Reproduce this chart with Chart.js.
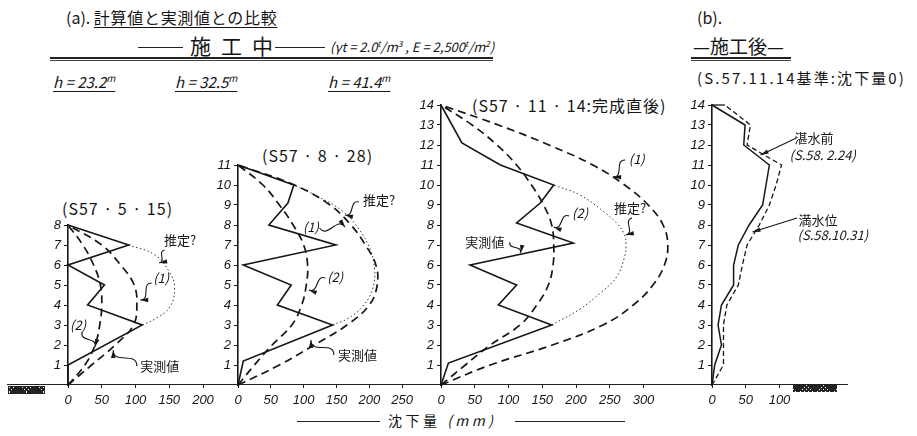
<!DOCTYPE html>
<html>
<head>
<meta charset="utf-8">
<script src="https://cdn.jsdelivr.net/npm/chart.js@4.4.1/dist/chart.umd.min.js"></script>
<style>
  body { margin: 0; background: #fff; }
  #wrap { position: relative; width: 917px; height: 436px; overflow: hidden; font-family: "Noto Sans CJK JP", sans-serif; color: #151515; }
  .t { position: absolute; white-space: nowrap; line-height: 1; }
  .u { text-decoration: underline; text-underline-offset: 3px; }
  .hl { position: absolute; border-top: 1.5px solid #222; }
  .hatch { position: absolute; background:
      repeating-linear-gradient(45deg, #222 0 2px, transparent 2px 3px),
      repeating-linear-gradient(-45deg, #222 0 2px, transparent 2px 3px); }
  canvas { position: absolute; }
  sup { font-size: 0.65em; }
</style>
</head>
<body>
<div id="wrap">
  <div class="t" style="left:66px;top:9px;font-size:16px;">(a). <span class="u" style="letter-spacing:0.7px;">計算値と実測値との比較</span></div>
  <div class="hl" style="left:138px;top:47px;width:45px;"></div>
  <div class="t" style="left:190px;top:35px;font-size:21px;letter-spacing:10px;">施工中</div>
  <div class="hl" style="left:275px;top:47px;width:50px;"></div>
  <div class="t" style="left:330px;top:39px;font-size:13px;font-style:italic;">(γt = 2.0<sup>t</sup>/m<sup>3</sup> , E = 2,500<sup>t</sup>/m<sup>2</sup>)</div>
  <div style="position:absolute;left:50px;top:57px;width:443px;height:1px;border-top:2.5px solid #222;border-bottom:1px solid #444;"></div>

  <div class="t u" style="left:53px;top:74px;font-size:15px;font-style:italic;">h = 23.2<sup>m</sup></div>
  <div class="t u" style="left:175px;top:74px;font-size:15px;font-style:italic;">h = 32.5<sup>m</sup></div>
  <div class="t u" style="left:328px;top:74px;font-size:15px;font-style:italic;">h = 41.4<sup>m</sup></div>

  <div class="t" style="left:62px;top:200px;font-size:16px;letter-spacing:1px;">(S57 · 5 · 15)</div>
  <div class="t" style="left:262px;top:147px;font-size:16px;letter-spacing:1px;">(S57 · 8 · 28)</div>
  <div class="t" style="left:472px;top:97px;font-size:16px;letter-spacing:1px;">(S57 · 11 · 14:完成直後)</div>

  <div class="t" style="left:697px;top:9px;font-size:16px;">(b).</div>
  <div class="t" style="left:693px;top:36px;font-size:19px;">—施工後—</div>
  <div style="position:absolute;left:691px;top:57px;width:100px;height:1px;border-top:2px solid #222;border-bottom:1px solid #444;"></div>
  <div class="t" style="left:697px;top:70px;font-size:15px;letter-spacing:2.1px;">(S.57.11.14基準:沈下量0)</div>

  <div class="hl" style="left:7px;top:384px;width:841px;"></div>
  <div class="hatch" style="left:8px;top:386px;width:37px;height:8px;"></div>
  <div class="hatch" style="left:793px;top:385px;width:44px;height:7px;"></div>

  <div class="hl" style="left:297px;top:421px;width:83px;border-top-width:1px;"></div>
  <div class="t" style="left:388px;top:413px;font-size:14px;letter-spacing:3.5px;">沈下量 <i>(mm)</i></div>
  <div class="hl" style="left:515px;top:421px;width:110px;border-top-width:1px;"></div>

  <canvas id="c1"></canvas>
  <canvas id="c2"></canvas>
  <canvas id="c3"></canvas>
  <canvas id="c4"></canvas>
</div>

<script>
// (a) h=23.2m  S57.5.15   depth in units of the axis, settlement in mm
const depth1 = [0, 1, 2, 3, 4, 5, 6, 7, 8];
const calc1A = [0, 35, 70, 97, 102, 98, 78, 50, 0];
const calc1B = [0, 25, 40, 47, 50, 48, 38, 22, 0];
const meas1Y = [0, 1, 3, 4, 5, 6, 7, 8];
const meas1X = [0, 0, 110, 29, 54, 0, 90, 0];
const est1Y = [3, 3.3, 3.9, 4.9, 5.6, 6.5, 7];
const est1X = [110, 129, 151, 158, 151, 129, 90];
const xTicks1 = [0, 50, 100, 150, 200];
const yTicks1 = [1, 2, 3, 4, 5, 6, 7, 8];

// (a) h=32.5m  S57.8.28
const depth2 = [0, 1, 2, 3, 4, 5, 6, 7, 8, 9, 10, 11];
const calc2A = [0, 63, 116, 166, 200, 212, 210, 194, 172, 140, 86, 0];
const calc2B = [0, 25, 52, 82, 97, 104, 106, 100, 84, 63, 38, 0];
const meas2Y = [0, 1.2, 3, 4, 5, 6, 7, 8, 9.1, 10, 11];
const meas2X = [0, 8, 144, 60, 81, 8, 149, 47, 76, 85, 0];
const est2Y = [3, 3.3, 3.9, 4.8, 5.8, 6.8, 7.8, 8.7, 9.4, 10];
const est2X = [144, 166, 189, 205, 208, 201, 184, 159, 123, 85];
const xTicks2 = [0, 50, 100, 150, 200, 250];
const yTicks2 = [1, 2, 3, 4, 5, 6, 7, 8, 9, 10, 11];

// (a) h=41.4m  S57.11.14 完成直後
const depth3 = [0, 1, 2, 3, 4, 5, 6, 7, 8, 9, 10, 11, 12, 13, 14];
const calc3A = [0, 73, 165, 240, 285, 314, 331, 336, 329, 307, 272, 225, 160, 85, 0];
const calc3B = [0, 36, 73, 117, 142, 159, 166, 167, 164, 152, 134, 112, 83, 46, 0];
const meas3Y = [0, 1.1, 3, 4, 5, 6, 7.1, 8.1, 9.1, 10, 11, 12.1, 14];
const meas3X = [0, 11, 164, 85, 112, 43, 196, 112, 147, 167, 88, 31, 0];
const est3Y = [3, 3.8, 4.6, 5.4, 6.4, 7, 7.5, 8.1, 8.8, 9.5, 10];
const est3X = [164, 206, 236, 260, 272, 274, 272, 260, 236, 206, 167];
const xTicks3 = [0, 50, 100, 150, 200, 250, 300];
const yTicks3 = [1, 2, 3, 4, 5, 6, 7, 8, 9, 10, 11, 12, 13, 14];

// (b) 施工後  S.57.11.14 基準
const before4Y = [0, 1, 2, 3, 4, 5, 6, 7, 8, 9, 11, 12, 13, 14];
const before4X = [0, 4, 14, 9, 14, 32, 32, 39, 55, 75, 85, 47, 49, 0];
const full4Y = [0, 1, 2, 3, 4, 5, 6, 7, 8, 9, 10, 11, 12, 13, 14, 14];
const full4X = [0, 17, 17, 17, 22, 39, 45, 52, 70, 85, 95, 103, 52, 57, 19, 0];
const xTicks4 = [0, 50, 100];
const yTicks4 = [1, 2, 3, 4, 5, 6, 7, 8, 9, 10, 11, 12, 13, 14];

// labels with leader lines, in data units
const notes1 = [
  { text: '推定?', x: 166, y: 7.25, from: [143, 6.75], to: [135, 6.1], wave: true },
  { text: '(1)', x: 138, y: 5.35, italic: true, from: [124, 5.1], to: [107, 4.25], wave: true },
  { text: '(2)', x: 15, y: 3.0, italic: true, from: [21, 2.65], to: [40, 1.9], wave: true },
  { text: '実測値', x: 136, y: 0.95, from: [102, 0.95], to: [67, 1.75], wave: true }
];
const notes2 = [
  { text: '推定?', x: 215, y: 9.25, from: [184, 9.15], to: [163, 8.5], wave: true },
  { text: '(1)', x: 111, y: 7.9, italic: true, from: [124, 7.85], to: [163, 7.9], wave: true },
  { text: '(2)', x: 148, y: 5.4, italic: true, from: [133, 5.35], to: [108, 4.75], wave: true },
  { text: '実測値', x: 182, y: 1.5, from: [146, 1.5], to: [111, 2.25], wave: true }
];
const notes3 = [
  { text: '(1)', x: 290, y: 11.3, italic: true, from: [273, 11.25], to: [255, 10.4], wave: true },
  { text: '推定?', x: 280, y: 8.85, from: [283, 8.35], to: [274, 7.5], wave: true },
  { text: '(2)', x: 206, y: 8.6, italic: true, from: [190, 8.45], to: [167, 7.9], wave: true },
  { text: '実測値', x: 65, y: 7.15, from: [102, 7.15], to: [118, 6.6], wave: true }
];
const notes4 = [
  { text: '湛水前', x: 151, y: 12.35 },
  { text: '(S.58. 2.24)', x: 164, y: 11.5, italic: true, from: [125, 12.35], to: [72, 11.5] },
  { text: '満水位', x: 157, y: 8.25 },
  { text: '(S.58.10.31)', x: 179, y: 7.5, italic: true, from: [126, 8.35], to: [60, 7.65] }
];

const PX_MM = 0.675;      // px per mm on every panel
const PX_UNIT = 20;       // px per depth unit
const BASE_Y = 385;       // page y of the ground line
const CANVAS_TOP = 90;
const CANVAS_H = 346;
const Y_AXIS_W = 30;
const INK = '#161616';
const tickFont = { family: "'Liberation Sans', sans-serif", size: 13, style: 'italic' };

const pts = (xs, ys) => xs.map((x, i) => ({ x: x, y: ys[i] }));

function solid(data) {
  return { data, showLine: true, borderColor: INK, borderWidth: 1.6, pointRadius: 0, tension: 0, clip: false };
}
function dashed(data) {
  return { data, showLine: true, borderColor: INK, borderWidth: 1.7, borderDash: [8, 5], pointRadius: 0, tension: 0.4, clip: false };
}
function dotted(data) {
  return { data, showLine: true, borderColor: '#333', borderWidth: 1, borderDash: [1.5, 2.5], pointRadius: 0, tension: 0.4, clip: false };
}

function notesPlugin(items) {
  return {
    id: 'notes',
    afterDatasetsDraw(chart) {
      const { ctx, scales: { x, y } } = chart;
      ctx.save();
      ctx.strokeStyle = INK;
      ctx.fillStyle = INK;
      ctx.lineWidth = 1.1;
      items.forEach(n => {
        ctx.font = (n.italic ? 'italic ' : '') + '13px "Noto Sans CJK JP", sans-serif';
        ctx.textAlign = 'center';
        ctx.textBaseline = 'middle';
        ctx.fillText(n.text, x.getPixelForValue(n.x), y.getPixelForValue(n.y));
        if (!n.from) return;
        const x0 = x.getPixelForValue(n.from[0]), y0 = y.getPixelForValue(n.from[1]);
        const x1 = x.getPixelForValue(n.to[0]), y1 = y.getPixelForValue(n.to[1]);
        const dx = x1 - x0, dy = y1 - y0;
        let cx = x0, cy = y0;
        ctx.beginPath();
        ctx.moveTo(x0, y0);
        if (n.wave) {
          const nx = -dy * 0.45, ny = dx * 0.45;
          cx = x0 + dx * 0.7 - nx; cy = y0 + dy * 0.7 - ny;
          ctx.bezierCurveTo(x0 + dx * 0.3 + nx, y0 + dy * 0.3 + ny, cx, cy, x1, y1);
        } else {
          ctx.lineTo(x1, y1);
        }
        ctx.stroke();
        // arrow head
        const a = Math.atan2(y1 - cy, x1 - cx);
        ctx.beginPath();
        ctx.moveTo(x1, y1);
        ctx.lineTo(x1 - 8 * Math.cos(a) + 2.2 * Math.sin(a), y1 - 8 * Math.sin(a) - 2.2 * Math.cos(a));
        ctx.lineTo(x1 - 8 * Math.cos(a) - 2.2 * Math.sin(a), y1 - 8 * Math.sin(a) + 2.2 * Math.cos(a));
        ctx.closePath();
        ctx.fill();
      });
      ctx.restore();
    }
  };
}

function panel(id, originX, width, n, xTicks, yTicks, datasets, notes) {
  const cv = document.getElementById(id);
  const plotBottom = BASE_Y - CANVAS_TOP;
  cv.width = width;
  cv.height = CANVAS_H;
  cv.style.left = (originX - Y_AXIS_W) + 'px';
  cv.style.top = CANVAS_TOP + 'px';
  new Chart(cv, {
    type: 'scatter',
    data: { datasets },
    options: {
      responsive: false,
      animation: false,
      events: [],
      layout: { padding: { top: plotBottom - PX_UNIT * n, left: 0, right: 0, bottom: 0 } },
      plugins: { legend: { display: false }, tooltip: { enabled: false } },
      scales: {
        x: {
          type: 'linear',
          min: 0,
          max: (width - Y_AXIS_W) / PX_MM,
          afterBuildTicks: s => { s.ticks = xTicks.map(v => ({ value: v })); },
          afterFit: s => { s.height = CANVAS_H - plotBottom; },
          border: { display: false },
          grid: { drawOnChartArea: false, drawTicks: true, tickLength: 3, color: INK },
          ticks: { color: INK, font: tickFont, padding: 5, maxRotation: 0 }
        },
        y: {
          type: 'linear',
          min: 0,
          max: n,
          afterBuildTicks: s => { s.ticks = yTicks.map(v => ({ value: v })); },
          afterFit: s => { s.width = Y_AXIS_W; },
          border: { display: true, color: INK, width: 1.6 },
          grid: { drawOnChartArea: false, drawTicks: true, tickLength: 4, color: INK },
          ticks: { color: INK, font: tickFont, padding: 3 }
        }
      }
    },
    plugins: [notesPlugin(notes)]
  });
}

panel('c1', 68, 200, 8, xTicks1, yTicks1, [
  solid(pts(meas1X, meas1Y)),
  dashed(pts(calc1A, depth1)),
  dashed(pts(calc1B, depth1)),
  dotted(pts(est1X, est1Y))
], notes1);

panel('c2', 238, 210, 11, xTicks2, yTicks2, [
  solid(pts(meas2X, meas2Y)),
  dashed(pts(calc2A, depth2)),
  dashed(pts(calc2B, depth2)),
  dotted(pts(est2X, est2Y))
], notes2);

panel('c3', 441, 280, 14, xTicks3, yTicks3, [
  solid(pts(meas3X, meas3Y)),
  dashed(pts(calc3A, depth3)),
  dashed(pts(calc3B, depth3)),
  dotted(pts(est3X, est3Y))
], notes3);

const full4 = dashed(pts(full4X, full4Y));
full4.tension = 0;
full4.borderWidth = 1.3;
full4.borderDash = [5, 3];
// the last short run along the 14 line is drawn solid
full4.segment = { borderDash: c => (c.p0DataIndex === full4X.length - 2 ? [] : undefined) };
const before4 = solid(pts(before4X, before4Y));
before4.borderWidth = 1.5;

panel('c4', 712, 235, 14, xTicks4, yTicks4, [before4, full4], notes4);
</script>
</body>
</html>
